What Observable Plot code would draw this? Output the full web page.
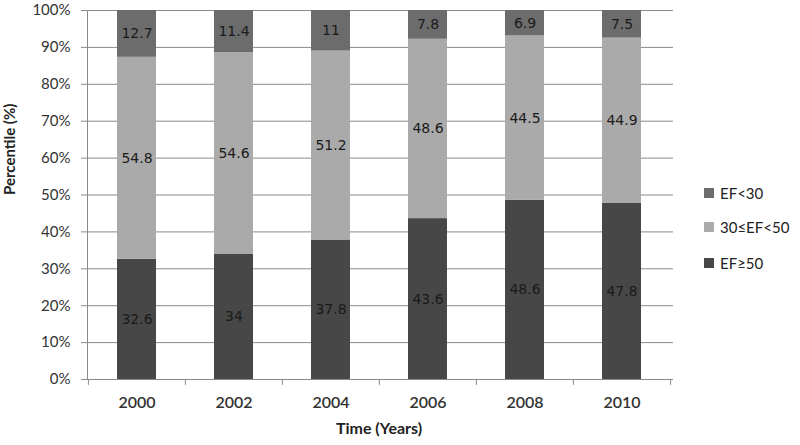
<!DOCTYPE html>
<html>
<head>
<meta charset="utf-8">
<script src="https://cdn.jsdelivr.net/npm/d3@7"></script>
<script src="https://cdn.jsdelivr.net/npm/@observablehq/plot@0.6"></script>
<style>
  html, body { margin: 0; padding: 0; background: #fff; }
  #wrap { position: relative; width: 800px; height: 445px; }
  #legend { position: absolute; left: 704px; top: 0; font-family: Lato, "Open Sans", sans-serif; font-size: 15px; color: #222; }
  .item { position: absolute; left: 0; white-space: nowrap; display: flex; align-items: center; }
  .sw { width: 10px; height: 10px; margin-right: 6px; }
</style>
</head>
<body>
<div id="wrap"><div id="legend"></div></div>
<script>
const years = ["2000", "2002", "2004", "2006", "2008", "2010"];
const categories = ["EF≥50", "30≤EF<50", "EF<30"];
const efHigh = [32.6, 34, 37.8, 43.6, 48.6, 47.8];
const efMid = [54.8, 54.6, 51.2, 48.6, 44.5, 44.9];
const efLow = [12.7, 11.4, 11, 7.8, 6.9, 7.5];
const colors = ["#474747", "#aaaaaa", "#6c6c6c"];
const yTicks = [0, 0.1, 0.2, 0.3, 0.4, 0.5, 0.6, 0.7, 0.8, 0.9, 1];

const series = [efHigh, efMid, efLow];
const data = [];
years.forEach((y, i) => {
  categories.forEach((c, j) => data.push({year: y, cat: c, value: series[j][i]}));
});

const W = 800, H = 445;
const mL = 87, mR = 130, mT = 10, mB = 66;
const step = (W - mL - mR) / years.length;

const stackOpts = {x: "year", y: "value", z: "cat", offset: "normalize", order: null};

const chart = Plot.plot({
  width: W, height: H,
  marginLeft: mL, marginRight: mR, marginTop: mT, marginBottom: mB,
  style: {fontFamily: "Lato, 'Open Sans', sans-serif", background: "#fff", overflow: "visible"},
  x: {domain: years, paddingInner: 0.6, paddingOuter: 0.3, label: null},
  y: {domain: [0, 1], label: null},
  color: {domain: categories, range: colors},
  marks: [
    Plot.ruleY(yTicks, {stroke: "#8a8a8a", strokeWidth: 1, insetLeft: -6, insetRight: -3}),
    Plot.ruleX(years, {x: d => d, dx: -step / 2, y1: 0, y2: -0.016, stroke: "#8a8a8a"}),
    Plot.ruleX([years[years.length - 1]], {x: d => d, dx: step / 2, y1: 0, y2: -0.016, stroke: "#8a8a8a"}),
    Plot.frame({anchor: "left", stroke: "#8a8a8a"}),
    Plot.barY(data, Plot.stackY({...stackOpts, fill: "cat"})),
    Plot.ruleY([0], {stroke: "#8a8a8a", insetLeft: -6}),
    Plot.text(data, Plot.stackY({...stackOpts, text: d => String(d.value), fontFamily: "'DejaVu Sans', sans-serif", fontSize: 14, fill: "#1a1a1a"})),
    Plot.axisY(yTicks, {tickSize: 0, tickPadding: 17, tickFormat: d => Math.round(d * 100) + "%", fontSize: 15, fill: "#333"}),
    Plot.axisX({tickSize: 0, tickPadding: 17, fontSize: 16, fontWeight: 600, fill: "#333", label: null}),
    Plot.text(["Time (Years)"], {frameAnchor: "bottom", dy: 54, fontWeight: "bold", fontSize: 16, fill: "#222"}),
    Plot.text(["Percentile (%)"], {frameAnchor: "left", dx: -77, rotate: -90, fontWeight: "bold", fontSize: 15, fill: "#222"})
  ]
});

const wrap = document.getElementById("wrap");
wrap.insertBefore(chart, wrap.firstChild);

const legend = document.getElementById("legend");
const legendOrder = [2, 1, 0];
const legendTops = [184, 218, 254];
legendOrder.forEach((j, k) => {
  const item = document.createElement("div");
  item.className = "item";
  item.style.top = legendTops[k] + "px";
  const sw = document.createElement("span");
  sw.className = "sw";
  sw.style.background = colors[j];
  const t = document.createElement("span");
  t.textContent = categories[j];
  item.appendChild(sw);
  item.appendChild(t);
  legend.appendChild(item);
});
</script>
</body>
</html>
